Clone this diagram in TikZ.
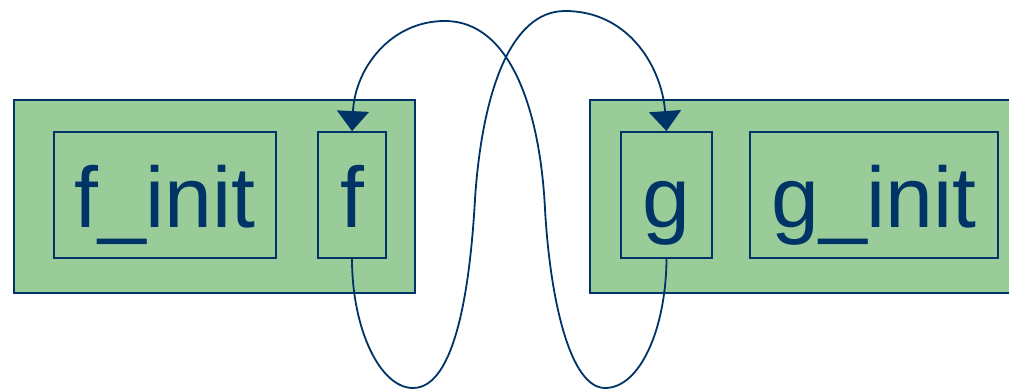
\documentclass[tikz,border=0pt]{standalone}
\usepackage{fontspec}
\setmainfont{Liberation Sans}
\usetikzlibrary{arrows.meta}
\definecolor{navy}{RGB}{0,51,102}
\definecolor{modgreen}{RGB}{153,204,153}
\tikzset{
  modbox/.style={draw=navy, fill=modgreen, line width=2pt, inner sep=0pt},
  fnbox/.style={draw=navy, fill=modgreen, line width=1.8pt, inner sep=0pt,
    minimum height=126pt, text=navy, text height=64pt, text depth=0pt,
    font=\fontsize{86}{90}\selectfont},
  flow/.style={-{Triangle[length=20pt,width=32pt]}, line width=1.8pt, draw=navy},
}
\begin{document}
\begin{tikzpicture}[x=1pt,y=1pt]
  \useasboundingbox (0,0) rectangle (1009,389);
  \node[modbox, minimum width=401pt, minimum height=193pt] (leftmod) at (214.5,192.5) {};
  \node[modbox, minimum width=425pt, minimum height=193pt] (rightmod) at (802.5,192.5) {};
  \node[fnbox, minimum width=222pt] (finit) at (165,194) {f\_init};
  \node[fnbox, minimum width=68pt] (ffun) at (352,194) {f};
  \node[fnbox, minimum width=91pt] (gfun) at (666.5,194) {g};
  \node[fnbox, minimum width=248pt] (ginit) at (874,194) {g\_init};
  % f calls g
  \draw[flow] (ffun.south) .. controls (352,60) and (380,1) .. (413,1)
    .. controls (455,1) and (470,100) .. (475,190)
    .. controls (482,295) and (510,378) .. (565,378)
    .. controls (630,378) and (662,320) .. (gfun.north);
  % g calls f
  \draw[flow] (gfun.south) .. controls (666,60) and (640,1) .. (605,1)
    .. controls (570,1) and (550,90) .. (545,180)
    .. controls (540,280) and (510,368) .. (445,368)
    .. controls (390,368) and (355,320) .. (ffun.north);
\end{tikzpicture}
\end{document}
